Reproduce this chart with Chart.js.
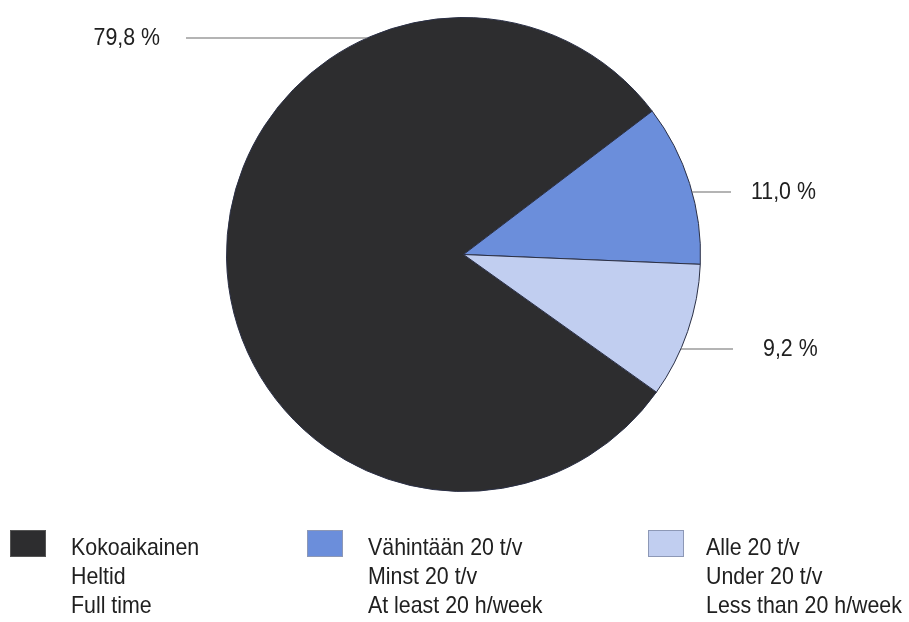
<!DOCTYPE html>
<html>
<head>
<meta charset="utf-8">
<script src="https://cdn.jsdelivr.net/npm/chart.js@4.4.1/dist/chart.umd.min.js"></script>
<style>
  html, body { margin: 0; padding: 0; background: #fff; }
  #wrap { position: relative; width: 909px; height: 622px; }
</style>
</head>
<body>
<div id="wrap"><canvas id="pie" width="909" height="622"></canvas></div>
<script>
// Working time shares, in percent
const CATEGORIES = [
  ['Kokoaikainen', 'Heltid', 'Full time'],
  ['Vähintään 20 t/v', 'Minst 20 t/v', 'At least 20 h/week'],
  ['Alle 20 t/v', 'Under 20 t/v', 'Less than 20 h/week']
];
const SHARES = [79.8, 11.0, 9.2];
const SHARE_LABELS = ['79,8 %', '11,0 %', '9,2 %'];

const COLORS = ['#2d2d2f', '#6b8edb', '#c1cef0'];
const FONT = '24px "Liberation Sans", Arial, sans-serif';
const SQUEEZE = 0.89;   // narrow the sans a bit, like a condensed face

// leader line placement per slice: y of the line, text side and extents
const LEADERS = [
  { y: 38, side: 'left', lineEnd: 186, textX: 160 },
  { y: 192, side: 'right', lineEnd: 731, textX: 751 },
  { y: 349, side: 'right', lineEnd: 733, textX: 763 }
];

function narrowText(ctx, text, x, y, align) {
  ctx.save();
  ctx.translate(x, y);
  ctx.scale(SQUEEZE, 1);
  ctx.textAlign = align;
  ctx.fillText(text, 0, 0);
  ctx.restore();
}

const leaderPlugin = {
  id: 'leaders',
  afterDatasetsDraw(chart) {
    const ctx = chart.ctx;
    const arc = chart.getDatasetMeta(0).data[0];
    const cx = arc.x, cy = arc.y, r = arc.outerRadius;
    ctx.save();
    ctx.strokeStyle = '#6a6a6a';
    ctx.lineWidth = 1.2;
    ctx.fillStyle = '#202020';
    ctx.font = FONT;
    ctx.textBaseline = 'alphabetic';
    LEADERS.forEach((l, i) => {
      const dy = l.y - cy;
      const dx = Math.sqrt(Math.max(0, r * r - dy * dy));
      const edgeX = l.side === 'left' ? cx - dx : cx + dx;
      ctx.beginPath();
      ctx.moveTo(edgeX, l.y);
      ctx.lineTo(l.lineEnd, l.y);
      ctx.stroke();
      narrowText(ctx, SHARE_LABELS[i], l.textX, l.y + 7, l.side === 'left' ? 'right' : 'left');
    });
    ctx.restore();
  }
};

const legendPlugin = {
  id: 'bottomLegend',
  afterDraw(chart) {
    const ctx = chart.ctx;
    const boxX = [10, 307, 648];
    const textX = [71, 368, 706];
    ctx.save();
    ctx.font = FONT;
    ctx.textBaseline = 'alphabetic';
    CATEGORIES.forEach((lines, i) => {
      ctx.fillStyle = COLORS[i];
      ctx.fillRect(boxX[i], 530, 36, 27);
      ctx.strokeStyle = i === 0 ? '#555' : '#8d98b6';
      ctx.lineWidth = 1;
      ctx.strokeRect(boxX[i] + 0.5, 530.5, 35, 26);
      ctx.fillStyle = '#202020';
      lines.forEach((t, j) => narrowText(ctx, t, textX[i], 555 + j * 29, 'left'));
    });
    ctx.restore();
  }
};

new Chart(document.getElementById('pie'), {
  type: 'pie',
  data: {
    labels: CATEGORIES.map(c => c[0]),
    datasets: [{
      data: SHARES,
      backgroundColor: COLORS,
      borderColor: '#2a2f45',
      borderWidth: 1
    }]
  },
  options: {
    responsive: false,
    animation: false,
    rotation: 125.5,
    layout: { padding: { top: 17, bottom: 130, left: 226, right: 208 } },
    plugins: {
      legend: { display: false },
      tooltip: { enabled: false }
    }
  },
  plugins: [leaderPlugin, legendPlugin]
});
</script>
</body>
</html>
